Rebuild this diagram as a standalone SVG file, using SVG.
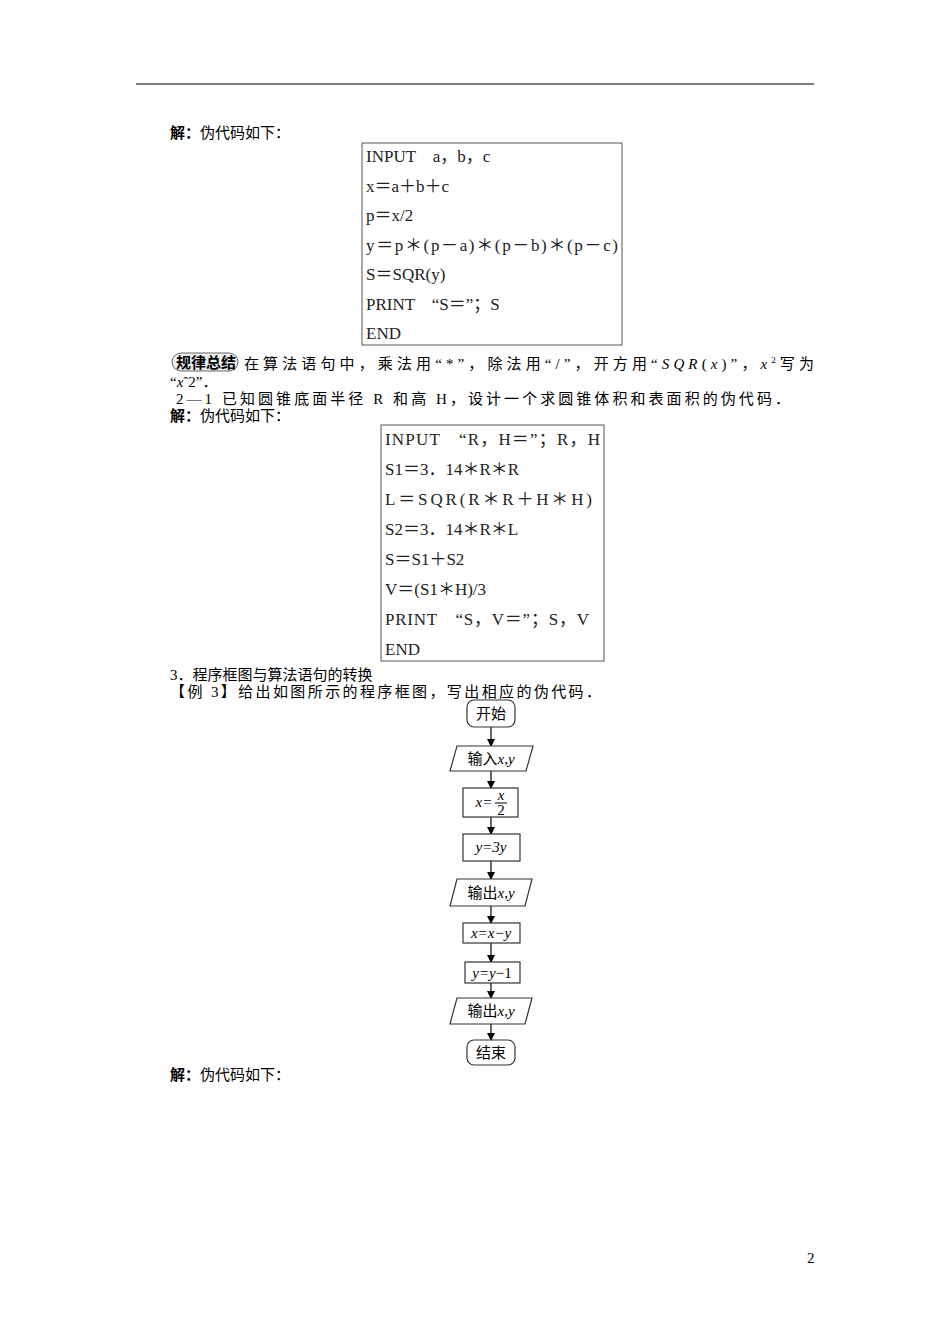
<svg xmlns="http://www.w3.org/2000/svg" width="950" height="1344" viewBox="0 0 950 1344">
<defs>
<marker id="ah" markerWidth="8" markerHeight="8" refX="7" refY="4" orient="auto" markerUnits="userSpaceOnUse"><path d="M0,0 L8,4 L0,8 Z" fill="#000"/></marker>
<style>
.t{font-family:"Liberation Serif","Noto Sans CJK SC",serif;font-size:15px;fill:#000}
.b{font-weight:bold}
.c{font-family:"Liberation Serif","Noto Sans CJK SC",serif;font-size:17px;fill:#222}
.box{fill:none;stroke:#555;stroke-width:1}
.n{fill:#fff;stroke:#333;stroke-width:1.2}
.f{font-family:"Liberation Serif","Noto Sans CJK SC",serif;font-size:15px;fill:#000;text-anchor:middle}
.i{font-style:italic}
.e{stroke:#000;stroke-width:1.2;fill:none}
</style>
</defs>
<rect width="950" height="1344" fill="#fff"/>
<line x1="136" y1="84" x2="814" y2="84" stroke="#000" stroke-width="1"/>
<text class="t" x="170" y="138"><tspan class="b">解：</tspan>伪代码如下：</text>
<rect class="box" x="362" y="143" width="260" height="202"/>
<g class="c">
<text x="366" y="162">INPUT　a，b，c</text>
<text x="366" y="192">x＝a＋b＋c</text>
<text x="366" y="221">p＝x/2</text>
<text x="366" y="251" textLength="252">y＝p＊(p－a)＊(p－b)＊(p－c)</text>
<text x="366" y="280">S＝SQR(y)</text>
<text x="366" y="310">PRINT　“S＝”；S</text>
<text x="366" y="339">END</text>
</g>
<rect x="172" y="353" width="66" height="18" rx="9" fill="#eee" stroke="#666"/>
<text class="t b" x="176" y="368" font-size="14">规律总结</text>
<text class="t" x="244" y="369" textLength="570">在算法语句中，乘法用“*”，除法用“/”，开方用“<tspan class="i">SQR</tspan>(<tspan class="i">x</tspan>)”，<tspan class="i">x</tspan><tspan font-size="9" dy="-6">2</tspan><tspan dy="6">写为</tspan></text>
<text class="t" x="170" y="387">“<tspan class="i">x</tspan>ˆ2”．</text>
<text class="t" x="176" y="404" textLength="614">2—1 已知圆锥底面半径 R 和高 H，设计一个求圆锥体积和表面积的伪代码．</text>
<text class="t" x="170" y="421"><tspan class="b">解：</tspan>伪代码如下：</text>
<rect class="box" x="381" y="425" width="223" height="236"/>
<g class="c">
<text x="385" y="445" textLength="215">INPUT　“R，H＝”；R，H</text>
<text x="385" y="475">S1＝3．14＊R＊R</text>
<text x="385" y="505" textLength="207">L＝SQR(R＊R＋H＊H)</text>
<text x="385" y="535">S2＝3．14＊R＊L</text>
<text x="385" y="565">S＝S1＋S2</text>
<text x="385" y="595">V＝(S1＊H)/3</text>
<text x="385" y="625" textLength="204">PRINT　“S，V＝”；S，V</text>
<text x="385" y="655">END</text>
</g>
<text class="t" x="170" y="680">3．程序框图与算法语句的转换</text>
<text class="t" x="170" y="697" textLength="431">【例 3】给出如图所示的程序框图，写出相应的伪代码．</text>
<g id="connectors">
<line class="e" x1="491" y1="727" x2="491" y2="746" marker-end="url(#ah)"/>
<line class="e" x1="491" y1="771" x2="491" y2="788" marker-end="url(#ah)"/>
<line class="e" x1="491" y1="817" x2="491" y2="834" marker-end="url(#ah)"/>
<line class="e" x1="491" y1="861" x2="491" y2="879" marker-end="url(#ah)"/>
<line class="e" x1="491" y1="906" x2="491" y2="923" marker-end="url(#ah)"/>
<line class="e" x1="491" y1="943" x2="491" y2="962" marker-end="url(#ah)"/>
<line class="e" x1="491" y1="983" x2="491" y2="998" marker-end="url(#ah)"/>
<line class="e" x1="491" y1="1024" x2="491" y2="1040" marker-end="url(#ah)"/>
</g>
<g id="start"><rect class="n" x="467" y="700" width="48" height="27" rx="7"/><text class="f" x="491" y="719">开始</text></g>
<g id="input"><polygon class="n" points="457,746 533,746 526,771 450,771"/><text class="f" x="491" y="764">输入<tspan class="i">x</tspan>,<tspan class="i">y</tspan></text></g>
<g id="halve"><rect class="n" x="463" y="788" width="55" height="29"/><text class="f i" x="484" y="807">x=</text><text class="f i" x="501" y="800" font-size="12">x</text><line x1="495" y1="803" x2="507" y2="803" stroke="#000"/><text class="f" x="501" y="815" font-size="12">2</text></g>
<g id="triple"><rect class="n" x="463" y="834" width="57" height="27"/><text class="f i" x="491" y="852">y=3y</text></g>
<g id="out1"><polygon class="n" points="457,879 532,879 525,906 450,906"/><text class="f" x="491" y="898">输出<tspan class="i">x</tspan>,<tspan class="i">y</tspan></text></g>
<g id="sub"><rect class="n" x="463" y="923" width="57" height="20"/><text class="f i" x="491" y="938">x=x−y</text></g>
<g id="dec"><rect class="n" x="465" y="962" width="55" height="21"/><text class="f" x="492" y="978"><tspan class="i">y=y</tspan>−1</text></g>
<g id="out2"><polygon class="n" points="457,998 532,998 525,1024 450,1024"/><text class="f" x="491" y="1016">输出<tspan class="i">x</tspan>,<tspan class="i">y</tspan></text></g>
<g id="end"><rect class="n" x="467" y="1040" width="48" height="25" rx="7"/><text class="f" x="491" y="1058">结束</text></g>
<text class="t" x="170" y="1080"><tspan class="b">解：</tspan>伪代码如下：</text>
<text class="t" x="807" y="1263" font-family="Liberation Sans">2</text>
</svg>
